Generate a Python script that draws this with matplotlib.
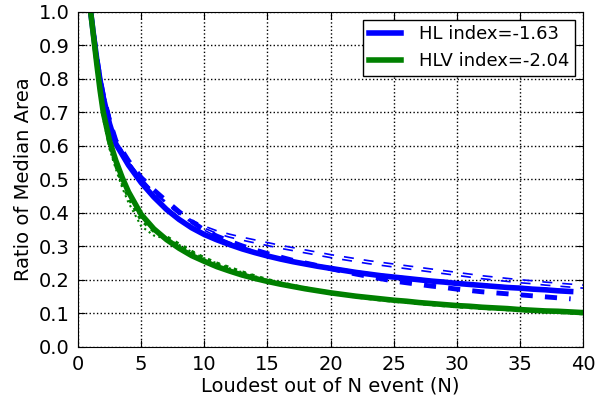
import matplotlib
matplotlib.use('Agg')
import matplotlib.pyplot as plt

# loudest-out-of-N, values
n_hl = [1, 1.25, 1.5, 1.75, 2, 2.5, 3, 4, 5, 6, 7, 8, 9, 10, 11, 12, 13, 14, 15, 16, 17,
        18, 19, 20, 21, 22, 23, 24, 25, 26, 27, 28, 29, 30, 31, 32, 33, 34, 35, 36, 37,
        38, 39]
hl = [1.0, 0.925, 0.855, 0.795, 0.745, 0.665, 0.605, 0.542, 0.49, 0.447, 0.41, 0.38,
      0.355, 0.335, 0.319, 0.305, 0.292, 0.281, 0.271, 0.262, 0.254, 0.247, 0.24, 0.234,
      0.228, 0.222, 0.217, 0.212, 0.208, 0.204, 0.2, 0.196, 0.193, 0.189, 0.186, 0.183,
      0.18, 0.177, 0.175, 0.172, 0.17, 0.167, 0.165]

n_hlv = [1, 1.25, 1.5, 1.75, 2, 2.5, 3, 3.5, 4, 5, 6, 7, 8, 9, 10, 11, 12, 13, 14, 15, 16,
         17, 18, 19, 20, 21, 22, 23, 24, 25, 26, 27, 28, 29, 30, 31, 32, 33, 34, 35, 36,
         37, 38, 39, 40]
hlv = [1.0, 0.92, 0.84, 0.765, 0.70, 0.615, 0.555, 0.505, 0.462, 0.395, 0.352, 0.32,
       0.294, 0.272, 0.255, 0.239, 0.226, 0.214, 0.204, 0.195, 0.187, 0.18, 0.173, 0.167,
       0.161, 0.156, 0.151, 0.147, 0.143, 0.139, 0.136, 0.132, 0.129, 0.126, 0.123, 0.121,
       0.118, 0.116, 0.114, 0.111, 0.109, 0.107, 0.106, 0.104, 0.102]

# individual HL runs (dashed)
hl_run_thick = [1.0, 0.93, 0.86, 0.80, 0.752, 0.675, 0.615, 0.555, 0.505, 0.468, 0.435,
                0.403, 0.374, 0.348, 0.33, 0.315, 0.301, 0.289, 0.278, 0.268, 0.258,
                0.25, 0.242, 0.233, 0.225, 0.217, 0.21, 0.203, 0.196, 0.191, 0.186,
                0.181, 0.177, 0.172, 0.168, 0.164, 0.161, 0.158, 0.155, 0.152, 0.149,
                0.146, 0.143]
hl_run_mid = [1.0, 0.928, 0.858, 0.798, 0.75, 0.672, 0.612, 0.553, 0.503, 0.462, 0.426,
              0.396, 0.37, 0.348, 0.328, 0.312, 0.298, 0.286, 0.275, 0.266, 0.258,
              0.251, 0.244, 0.238, 0.232, 0.226, 0.221, 0.216, 0.212, 0.208, 0.204,
              0.2, 0.197, 0.193, 0.19, 0.187, 0.184, 0.181, 0.179, 0.176, 0.174,
              0.171, 0.169]

n_upper = [1, 2, 3, 4, 5, 6, 7, 8, 9, 10, 11, 12, 13, 14, 15, 16, 17, 18, 19, 20, 21, 22,
           23, 24, 25, 26, 27, 28, 29, 30, 31, 32, 33, 34, 35, 36, 37, 38, 39, 40]
hl_run_up1 = [1.0, 0.765, 0.62, 0.553, 0.50, 0.462, 0.432, 0.40, 0.378, 0.36, 0.346,
              0.336, 0.327, 0.319, 0.311, 0.303, 0.296, 0.289, 0.282, 0.275, 0.269,
              0.263, 0.257, 0.252, 0.247, 0.242, 0.237, 0.232, 0.227, 0.222, 0.217,
              0.212, 0.208, 0.204, 0.2, 0.197, 0.193, 0.19, 0.187, 0.184]
hl_run_up2 = [1.0, 0.762, 0.617, 0.55, 0.497, 0.459, 0.428, 0.396, 0.373, 0.354, 0.338,
              0.327, 0.318, 0.31, 0.302, 0.294, 0.287, 0.28, 0.273, 0.266, 0.26,
              0.254, 0.248, 0.243, 0.238, 0.233, 0.228, 0.223, 0.218, 0.213, 0.208,
              0.203, 0.199, 0.195, 0.191, 0.188, 0.184, 0.181, 0.178, 0.175]

# individual HLV runs (dotted)
n_dot1 = [1, 1.5, 2, 2.5, 3, 3.5, 4, 5, 6, 7, 8, 9, 10, 11, 12, 13, 14, 15, 16, 17, 18,
          19, 20, 22, 24, 26, 28, 30, 32, 34, 36, 38, 40]
hlv_run1 = [1.0, 0.83, 0.69, 0.60, 0.54, 0.488, 0.445, 0.378, 0.345, 0.328, 0.306,
            0.284, 0.265, 0.249, 0.236, 0.223, 0.211, 0.2, 0.191, 0.183, 0.175, 0.168,
            0.162, 0.149, 0.14, 0.133, 0.126, 0.12, 0.115, 0.111, 0.106, 0.103, 0.099]
n_dot2 = [1, 1.5, 2, 2.5, 3, 3.5, 4, 5, 6, 7, 8, 9, 10, 12, 15, 20, 25, 30, 35, 40]
hlv_run2 = [1.0, 0.825, 0.68, 0.59, 0.53, 0.475, 0.43, 0.36, 0.332, 0.322, 0.304, 0.283,
            0.264, 0.234, 0.199, 0.161, 0.138, 0.121, 0.11, 0.1]

fig = plt.figure(figsize=(6.14, 4.0), dpi=100)
ax = fig.add_axes([0.127, 0.133, 0.823, 0.838])

ax.plot(n_upper, hl_run_up1, color='b', lw=1.2, ls='--', dashes=(6, 6))
ax.plot(n_upper, hl_run_up2, color='b', lw=1.2, ls='--', dashes=(6, 6))
ax.plot(n_hl, hl_run_mid, color='b', lw=1.2, ls='--', dashes=(6, 6))
ax.plot(n_hl, hl_run_thick, color='b', lw=3.5, ls='--', dashes=(2.5, 2.5))
ax.plot(n_dot1, hlv_run1, color='g', lw=2.5, ls=':')
ax.plot(n_dot2, hlv_run2, color='g', lw=1.5, ls=':')

ax.plot(n_hl, hl, color='b', lw=4, label='HL index=-1.63')
ax.plot(n_hlv, hlv, color='g', lw=4, label='HLV index=-2.04')

ax.set_xlim(0, 40)
ax.set_ylim(0, 1.0)
ax.set_xticks(range(0, 41, 5))
ax.set_yticks([i / 10 for i in range(11)])
ax.set_yticklabels(['%.1f' % (i / 10) for i in range(11)])
ax.tick_params(direction='in', top=True, right=True, labelsize=14, length=5, pad=6)
ax.grid(True, color='k', ls=':', lw=1)
ax.set_xlabel('Loudest out of N event (N)', fontsize=14, labelpad=2)
ax.set_ylabel('Ratio of Median Area', fontsize=14, labelpad=4)

leg = ax.legend(loc='upper right', fontsize=13, fancybox=False, handlelength=1.8,
                handletextpad=1.0, borderpad=0.3, borderaxespad=0.45)
leg.get_frame().set_edgecolor('k')
leg.get_frame().set_linewidth(1)
leg.get_frame().set_alpha(1)

fig.savefig('out.png', dpi=100)
